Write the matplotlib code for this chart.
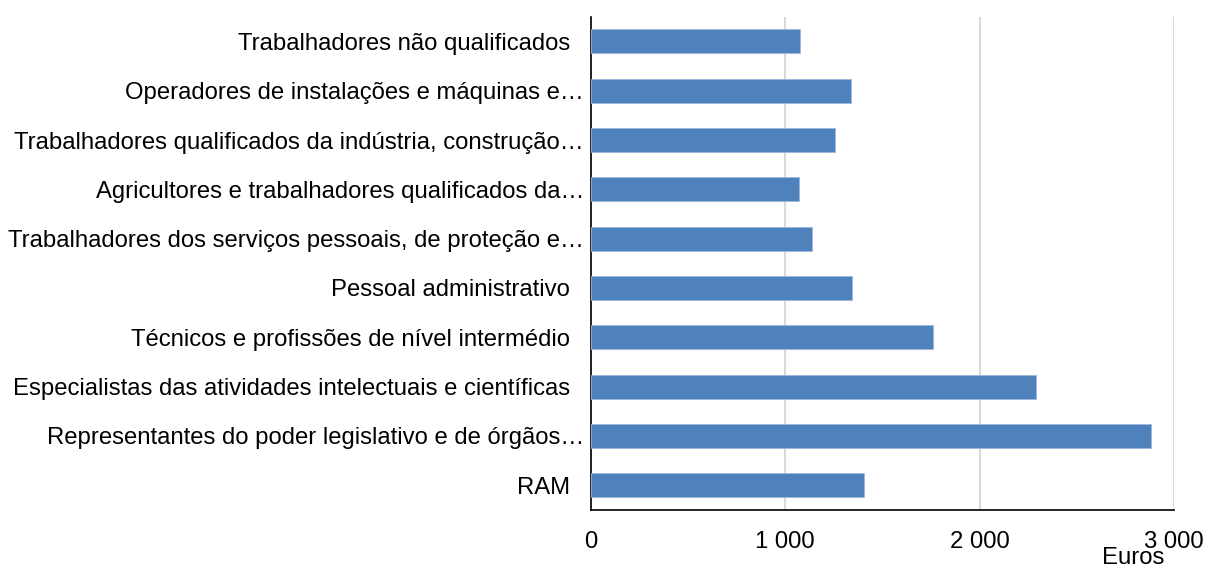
import matplotlib.pyplot as plt
import matplotlib.transforms as mtransforms
import numpy as np

plt.rcParams['font.family'] = ['Liberation Sans', 'DejaVu Sans']

categorias = [
    "Trabalhadores não qualificados",
    "Operadores de instalações e máquinas e…",
    "Trabalhadores qualificados da indústria, construção…",
    "Agricultores e trabalhadores qualificados da…",
    "Trabalhadores dos serviços pessoais, de proteção e…",
    "Pessoal administrativo",
    "Técnicos e profissões de nível intermédio",
    "Especialistas das atividades intelectuais e científicas",
    "Representantes do poder legislativo e de órgãos…",
    "RAM",
]
valores = [1077, 1336, 1255, 1071, 1140, 1344, 1761, 2291, 2883, 1405]
xticks = [0, 1000, 2000, 3000]
xtick_labels = ["0", "1 000", "2 000", "3 000"]

fs = 17.2

fig = plt.figure(figsize=(12.08, 5.69), dpi=100)
ax = fig.add_axes([0.489, 0.1037, 0.483, 0.867])

y = np.arange(len(categorias))
ax.barh(y, valores, height=0.48, color="#4F81BD", edgecolor="#9DB7DC", linewidth=0.6, zorder=3)
ax.set_ylim(len(categorias) - 0.5, -0.5)
ax.set_xlim(0, 3000)
ax.set_xticks(xticks)
ax.set_xticklabels(xtick_labels, fontsize=fs)
ax.set_yticks(y)
ax.set_yticklabels(categorias, fontsize=fs)

ax.grid(axis="x", color="#D9D9D9", linewidth=1.5, zorder=0)
ax.spines["top"].set_visible(False)
ax.spines["right"].set_visible(False)
ax.spines["left"].set_color("black")
ax.spines["bottom"].set_color("black")
ax.spines["left"].set_linewidth(1.2)
ax.spines["bottom"].set_linewidth(1.2)
ax.tick_params(axis="y", length=0, pad=15)
ax.tick_params(axis="x", length=0, pad=15)

# truncated labels run right up to the axis
for lab in ax.get_yticklabels():
    if lab.get_text().endswith("…"):
        off = mtransforms.ScaledTranslation(14 / 100, 0, fig.dpi_scale_trans)
        lab.set_transform(lab.get_transform() + off)

fig.text(1133 / 1208, 1 - 558 / 569, "Euros", fontsize=fs, ha="center", va="center")

fig.savefig("out.png", dpi=100)
